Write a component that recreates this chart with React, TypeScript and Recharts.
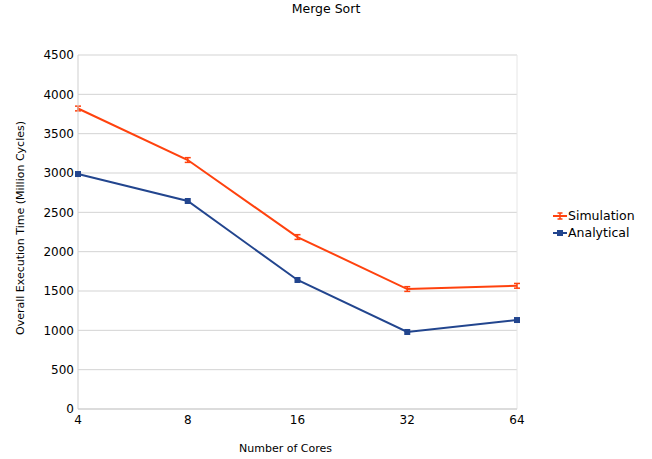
import React from "react";
import { LineChart, Line, XAxis, YAxis, CartesianGrid, ErrorBar, ReferenceLine } from "recharts";

const cores = ["4", "8", "16", "32", "64"];
const simulation = [3820, 3165, 2186, 1525, 1566];
const simulationError = [30, 30, 30, 30, 30];
const analytical = [2987, 2644, 1640, 979, 1131];
const yTicks = [0, 500, 1000, 1500, 2000, 2500, 3000, 3500, 4000, 4500];
const seriesNames = ["Simulation", "Analytical"];

const data = cores.map((c, i) => ({
  cores: c,
  Simulation: simulation[i],
  simErr: simulationError[i],
  Analytical: analytical[i],
}));

const FONT = "DejaVu Sans, Verdana, sans-serif";
const SIM = "#ff420e";
const ANA = "#22458e";
const colors: Record<string, string> = { Simulation: SIM, Analytical: ANA };

const SquareDot = (props: any) => {
  const { cx, cy } = props;
  if (cx == null || cy == null) return null;
  return <rect x={cx - 3} y={cy - 3} width={6} height={6} fill={ANA} />;
};

const LegendBox = () => (
  <div
    style={{
      position: "absolute",
      left: 553,
      top: 207,
      fontFamily: FONT,
      fontSize: 12.5,
      color: "#000",
    }}
  >
    {seriesNames.map((name) => (
      <div key={name} style={{ display: "flex", alignItems: "center", height: 17 }}>
        <svg width={14} height={10} style={{ marginRight: 1 }}>
          <line x1={0} y1={5} x2={14} y2={5} stroke={colors[name]} strokeWidth={2} />
          {name === "Analytical" ? (
            <rect x={4} y={2} width={6} height={6} fill={colors[name]} />
          ) : (
            <path d="M7 2 V8 M4.5 2 H9.5 M4.5 8 H9.5" stroke={colors[name]} strokeWidth={1.5} fill="none" />
          )}
        </svg>
        <span>{name}</span>
      </div>
    ))}
  </div>
);

export default function App() {
  return (
    <div style={{ position: "absolute", left: 0, top: 0, width: 652, height: 459, background: "#fff" }}>
      <div
        style={{
          position: "absolute",
          left: 0,
          top: 1,
          width: 652,
          textAlign: "center",
          fontFamily: FONT,
          fontSize: 12.5,
          color: "#000",
        }}
      >
        Merge Sort
      </div>
      <LineChart
        width={652}
        height={459}
        data={data}
        margin={{ top: 55, right: 135, bottom: 0, left: 0 }}
      >
        <CartesianGrid vertical={false} stroke="#d3d3d3" strokeWidth={1} />
        <ReferenceLine x="64" stroke="#e6e6e6" />
        <XAxis
          dataKey="cores"
          type="category"
          padding={{ left: 0, right: 0 }}
          height={50}
          tickLine={false}
          tickSize={0}
          tickMargin={6}
          axisLine={{ stroke: "#cfcfcf" }}
          tick={{ fill: "#000", fontSize: 12, fontFamily: FONT }}
          interval={0}
          label={{
            value: "Number of Cores",
            position: "insideBottom",
            offset: 7,
            dx: -12,
            style: { fill: "#000", fontSize: 11, fontFamily: FONT },
          }}
        />
        <YAxis
          width={78}
          domain={[0, 4500]}
          ticks={yTicks}
          interval={0}
          tickLine={false}
          tickSize={0}
          tickMargin={4}
          axisLine={{ stroke: "#cfcfcf" }}
          tick={{ fill: "#000", fontSize: 12, fontFamily: FONT }}
          label={{
            value: "Overall Execution Time (Million Cycles)",
            angle: -90,
            position: "center",
            dx: -19,
            dy: -4,
            style: { fill: "#000", fontSize: 11, fontFamily: FONT, textAnchor: "middle" },
          }}
        />
        <Line
          type="linear"
          dataKey="Simulation"
          stroke={SIM}
          strokeWidth={2}
          dot={false}
          isAnimationActive={false}
        >
          <ErrorBar dataKey="simErr" width={3} stroke={SIM} strokeWidth={1.5} direction="y" />
        </Line>
        <Line
          type="linear"
          dataKey="Analytical"
          stroke={ANA}
          strokeWidth={2}
          dot={<SquareDot />}
          isAnimationActive={false}
        />
      </LineChart>
      <LegendBox />
    </div>
  );
}
